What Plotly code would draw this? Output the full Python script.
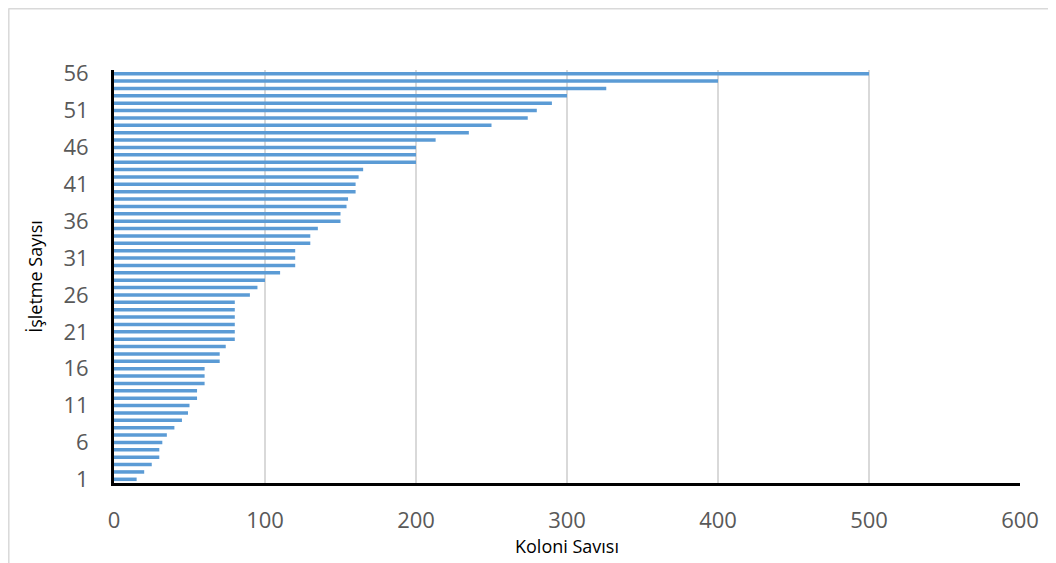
import plotly.graph_objects as go

# Data
isletme = list(range(1, 57))
koloni = [15, 20, 25, 30, 30, 32, 35, 40, 45, 49, 50, 55, 55, 60, 60, 60,
          70, 70, 74, 80, 80, 80, 80, 80, 80, 90, 95, 100, 110, 120, 120, 120,
          130, 130, 135, 150, 150, 154, 155, 160, 160, 162, 165, 200, 200, 200,
          213, 235, 250, 274, 280, 290, 300, 326, 400, 500]
y_ticks = list(range(1, 57, 5))
x_ticks = [0, 100, 200, 300, 400, 500, 600]

# page body has an 8px margin; figure origin is at screen (8, 8)
W, H = 1056, 563
L, R, T, B = 106, 44, 62, 88
pw, ph = W - L - R, H - T - B

fig = go.Figure(go.Bar(
    x=koloni, y=isletme, orientation="h",
    marker=dict(color="#5b9bd5", line=dict(width=0)),
    hoverinfo="x+y",
))

tick_font = dict(family="Open Sans, Liberation Sans, sans-serif", size=22, color="#595959")
title_font = dict(family="Open Sans, Liberation Sans, sans-serif", size=18, color="#000000")

fig.update_layout(
    width=W, height=H,
    margin=dict(l=L, r=R, t=T, b=B, autoexpand=False),
    paper_bgcolor="white", plot_bgcolor="white",
    bargap=0.52,
    showlegend=False,
    xaxis=dict(
        range=[0, 600], tickvals=x_ticks, ticktext=[str(v) for v in x_ticks],
        showgrid=True, gridcolor="#d9d9d9", gridwidth=1.5,
        zeroline=False, showline=True, linecolor="black", linewidth=3,
        tickfont=tick_font, ticks="", ticklabelstandoff=16,
        title=dict(text="Koloni Savısı", font=title_font, standoff=5),
    ),
    yaxis=dict(
        range=[0.5, 56.5], tickvals=y_ticks, ticktext=[str(v) for v in y_ticks],
        showgrid=False, zeroline=False, showline=True, linecolor="black", linewidth=3,
        tickfont=tick_font, ticks="", ticklabelstandoff=18,
        title=dict(text="İşletme Sayısı", font=title_font, standoff=17),
    ),
    shapes=[
        dict(type="line", xref="paper", yref="paper",
             x0=(0.5 - L) / pw, x1=(W + 5 - L) / pw,
             y0=(H - 0.8 - B) / ph, y1=(H - 0.8 - B) / ph,
             line=dict(color="#d9d9d9", width=1.5)),
        dict(type="line", xref="paper", yref="paper",
             x0=(0.8 - L) / pw, x1=(0.8 - L) / pw,
             y0=(H - 0.5 - B) / ph, y1=(-5 - B) / ph,
             line=dict(color="#d9d9d9", width=1.5)),
    ],
)

fig.write_html("out.html")
